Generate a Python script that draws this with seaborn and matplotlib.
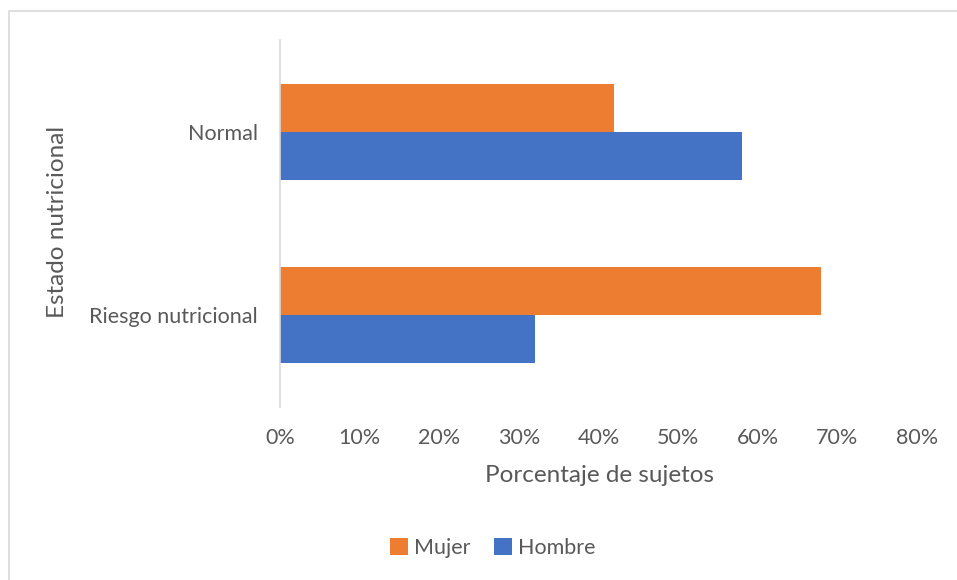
import matplotlib
matplotlib.use("Agg")
import matplotlib.pyplot as plt
from matplotlib.patches import Rectangle
from matplotlib.ticker import PercentFormatter, MultipleLocator
import seaborn as sns
import pandas as pd

# Nutritional status by sex (share of subjects)
categorias = ["Normal", "Riesgo nutricional"]
sexos = ["Mujer", "Hombre"]
mujer = [0.42, 0.68]
hombre = [0.58, 0.32]
colores = {"Mujer": "#ED7D31", "Hombre": "#4472C4"}

df = pd.DataFrame({
    "Estado": categorias * 2,
    "Sexo": ["Mujer"] * len(categorias) + ["Hombre"] * len(categorias),
    "Porcentaje": mujer + hombre,
})

sns.set_theme(style="white")
plt.rcParams["font.family"] = ["Lato", "DejaVu Sans"]
texto = "#595959"

W, H = 957, 580
fig = plt.figure(figsize=(W / 100, H / 100), dpi=100)
fig.patch.set_facecolor("white")

# Outer chart frame
fig.patches.append(Rectangle((9 / W, -0.1), 1.2, (H - 11) / H + 0.1,
                             transform=fig.transFigure, fill=False,
                             edgecolor="#D9D9D9", linewidth=1.2, zorder=0))

ax_l, ax_r, ax_t, ax_b = 280, 917, 40, 407
ax = fig.add_axes([ax_l / W, 1 - ax_b / H, (ax_r - ax_l) / W, (ax_b - ax_t) / H])

sns.barplot(data=df, y="Estado", x="Porcentaje", hue="Sexo",
            order=categorias, hue_order=sexos, palette=colores,
            orient="h", width=0.523, gap=0, linewidth=0, saturation=1,
            ax=ax)

ax.set_xlim(0, 0.8)
ax.set_ylim(1.5, -0.5)
ax.xaxis.set_major_locator(MultipleLocator(0.1))
ax.xaxis.set_major_formatter(PercentFormatter(1.0, decimals=0))

for s in ["top", "right", "bottom"]:
    ax.spines[s].set_visible(False)
ax.spines["left"].set_color("#D9D9D9")
ax.spines["left"].set_linewidth(1.2)
ax.tick_params(axis="both", length=0, labelsize=15.5, colors=texto)
ax.tick_params(axis="x", pad=15)
ax.tick_params(axis="y", pad=16)
ax.grid(False)

ax.set_xlabel("Porcentaje de sujetos", fontsize=17.5, color=texto)
ax.xaxis.set_label_coords(0.502, -0.158)
ax.xaxis.label.set_verticalalignment("top")
ax.set_ylabel("")
fig.text(58 / W, 1 - 222 / H, "Estado nutricional", rotation=90,
         ha="center", va="center", fontsize=17.5, color=texto)

handles, labels = ax.get_legend_handles_labels()
ax.get_legend().remove()
fig.legend(handles, labels, loc="center", bbox_to_anchor=(493 / W, 1 - 548 / H),
           ncol=2, frameon=False, fontsize=15.5, labelcolor=texto,
           handlelength=0.8, handleheight=0.8, handletextpad=0.3,
           columnspacing=1.1)

fig.savefig("out.png", dpi=100, facecolor="white")
